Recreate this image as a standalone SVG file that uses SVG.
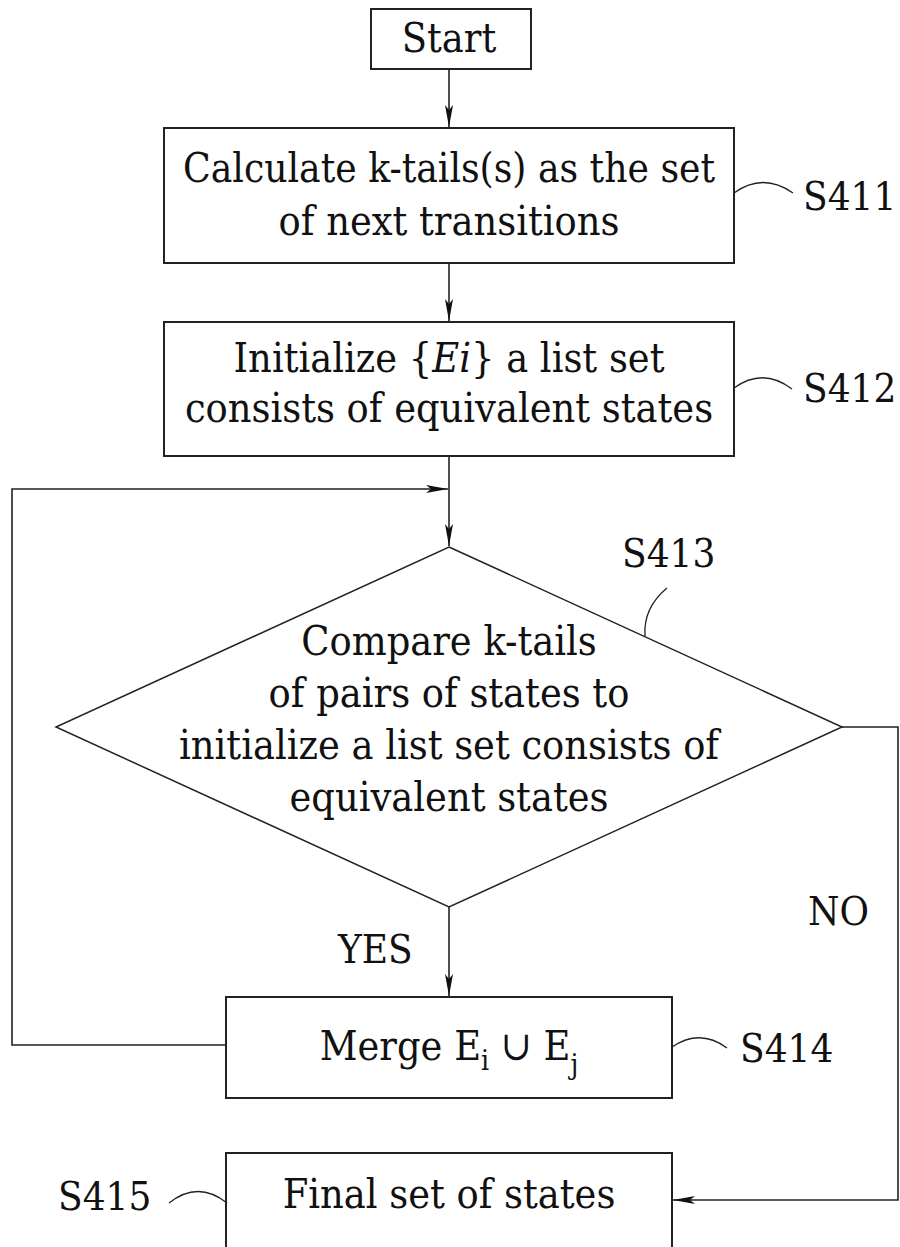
<svg xmlns="http://www.w3.org/2000/svg" width="900" height="1247" viewBox="0 0 900 1247">
<style>
.box{fill:#fff;stroke:#222;stroke-width:2}
.dia{fill:#fff;stroke:#222;stroke-width:1.5}
.t{font-family:'DejaVu Serif Condensed','DejaVu Serif',serif;font-size:41px;fill:#111;text-anchor:middle}
.lbl{font-family:'DejaVu Serif Condensed','DejaVu Serif',serif;font-size:40px;fill:#111}
.ln{fill:none;stroke:#222;stroke-width:1.6}
.lead{fill:none;stroke:#222;stroke-width:1.3}
</style>
<defs>
<marker id="ah" markerUnits="userSpaceOnUse" markerWidth="24" markerHeight="12" refX="22" refY="6" orient="auto">
<path d="M0,2 L22,6 L0,10 L5,6 Z" fill="#111"/>
</marker>
</defs>
<rect width="900" height="1247" fill="#fff"/>
<g id="connectors">
<path class="ln" d="M449,69 V127" marker-end="url(#ah)"/>
<path class="ln" d="M449,263 V321" marker-end="url(#ah)"/>
<path class="ln" d="M449,456 V546" marker-end="url(#ah)"/>
<path class="ln" d="M226,1045 H12 V489 H448" marker-end="url(#ah)"/>
<path class="ln" d="M449,907 V996" marker-end="url(#ah)"/>
<path class="ln" d="M842,727 H898 V1200 H673" marker-end="url(#ah)"/>
<text class="lbl" x="338" y="963">YES</text>
<text class="lbl" x="808" y="925">NO</text>
</g>
<g id="start">
<rect class="box" x="371" y="9" width="160" height="60"/>
<text class="t" x="449" y="52" font-size="43">Start</text>
</g>
<g id="s411">
<rect class="box" x="164" y="128" width="570" height="135"/>
<text class="t" x="449" y="182" textLength="532" lengthAdjust="spacingAndGlyphs">Calculate k-tails(s) as the set</text>
<text class="t" x="449" y="235">of next transitions</text>
<path class="lead" d="M734,193 Q763,172 793,193"/>
<text class="lbl" x="803" y="210">S411</text>
</g>
<g id="s412">
<rect class="box" x="164" y="322" width="570" height="134"/>
<text class="t" x="449" y="372">Initialize {<tspan font-style="italic">Ei</tspan>} a list set</text>
<text class="t" x="449" y="422">consists of equivalent states</text>
<path class="lead" d="M734,388 Q763,367 792,389"/>
<text class="lbl" x="803" y="402">S412</text>
</g>
<g id="s413">
<polygon class="dia" points="449,547 842,727 449,907 56,727"/>
<text class="t" x="449" y="655">Compare k-tails</text>
<text class="t" x="449" y="707">of pairs of states to</text>
<text class="t" x="449" y="759">initialize a list set consists of</text>
<text class="t" x="449" y="811">equivalent states</text>
<path class="lead" d="M667,588 Q643,608 645,636"/>
<text class="lbl" x="622" y="567">S413</text>
</g>
<g id="s414">
<rect class="box" x="226" y="997" width="446" height="101"/>
<text class="t" x="449" y="1060">Merge E<tspan dy="10" font-size="28">i</tspan><tspan dy="-10"> ∪ E</tspan><tspan dy="14" font-size="28">j</tspan></text>
<path class="lead" d="M672,1047 Q700,1028 727,1048"/>
<text class="lbl" x="740" y="1062">S414</text>
</g>
<g id="s415">
<rect class="box" x="226" y="1153" width="446" height="110"/>
<text class="t" x="449" y="1208">Final set of states</text>
<path class="lead" d="M169,1203 Q198,1180 227,1203"/>
<text class="lbl" x="58" y="1210">S415</text>
</g>
</svg>
